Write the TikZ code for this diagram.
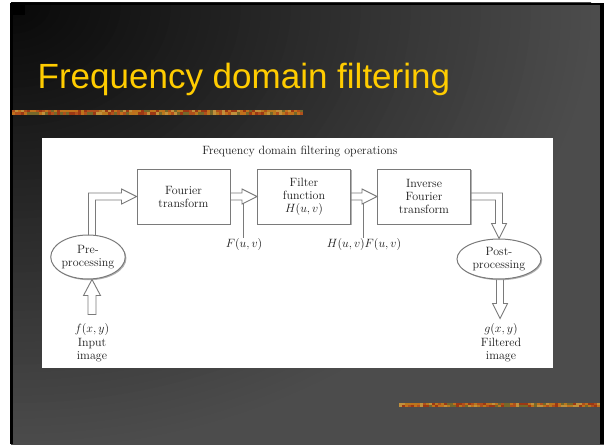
\documentclass[tikz,border=0pt]{standalone}
\usepackage{fontspec}
\newfontfamily\titlefont{Liberation Sans}
\usetikzlibrary{calc,shapes.geometric,shadows}
\definecolor{ttl}{HTML}{FFCC00}
\definecolor{bar0}{HTML}{C0701C}
\definecolor{bar1}{HTML}{9C3814}
\definecolor{bar2}{HTML}{76682A}
\definecolor{bar3}{HTML}{B0501C}
\definecolor{bar4}{HTML}{B8781E}
\definecolor{bar5}{HTML}{C0903C}
\definecolor{lin}{HTML}{7A7A7A}
\definecolor{txt}{HTML}{1A1A1A}
\begin{document}
\begin{tikzpicture}[x=1pt,y=-1pt,
  box/.style={draw=lin, line width=1pt, fill=white, minimum width=93pt, minimum height=55pt,
    inner sep=0pt, align=center, font=\fontsize{12}{13}\selectfont, text=txt,
    drop shadow={shadow xshift=1.2pt, shadow yshift=-1.2pt, fill=black!30, opacity=1}},
  ell/.style={ellipse, draw=lin, line width=1pt, fill=white, inner sep=0pt, align=center,
    font=\fontsize{12}{13}\selectfont, text=txt,
    drop shadow={shadow xshift=1.2pt, shadow yshift=-1.2pt, fill=black!30, opacity=1}},
  hol/.style={draw=lin, line width=0.9pt, line join=miter},
  lbl/.style={font=\fontsize{12}{13.5}\selectfont, text=txt, align=center, inner sep=0pt},
  tick/.style={draw=lin, line width=0.8pt}]
\useasboundingbox (0,0) rectangle (604,444);
\fill[white] (0,0) rectangle (604,444);
% slide background
\begin{scope}
  \clip (11,3) rectangle (620,460);
  \definecolor{bgbase}{gray}{0.30}
  \fill[bgbase] (11,3) rectangle (620,460);
  \foreach \r in {580,570,...,10} {
    \pgfmathsetmacro\g{min(0.30,0.03+0.00046*\r)}
    \definecolor{bgc}{gray}{\g}
    \fill[bgc] (11,3) circle[x radius=\r pt, y radius=\r/1.3 pt];
  }
\end{scope}
\fill[black] (10,3) rectangle (12.5,444);
\fill[black] (10,3) rectangle (604,5);
\fill[black] (600,3) rectangle (604,444);
\fill[black] (12,5) rectangle (25,15);
% decorative bars
\pgfmathsetseed{7}
\foreach \x in {12,15,...,300} {
  \pgfmathrandominteger{\k}{0}{5}
  \fill[bar\k] (\x,109.5) rectangle (\x+3.2,112.2);
  \pgfmathrandominteger{\k}{0}{5}
  \fill[bar\k] (\x,112) rectangle (\x+3.2,114.8);
}
\foreach \x in {399,402,...,597} {
  \pgfmathrandominteger{\k}{0}{5}
  \fill[bar\k] (\x,403) rectangle (\x+3.2,405.2);
  \pgfmathrandominteger{\k}{0}{5}
  \fill[bar\k] (\x,405) rectangle (\x+3.2,407.2);
}
% title
\node[anchor=base west, inner sep=0pt, text=ttl, font=\titlefont\fontsize{35}{40}\selectfont]
  (title) at (37.5,88) {Frequency domain filtering};
% white panel
\fill[white] (42,138) rectangle (553,368);
% diagram
\node[lbl] (dtitle) at (300,152) {Frequency domain filtering operations};
\node[box] (ft) at (183.5,196.5) {Fourier\\transform};
\node[box] (flt) at (304,196.5) {Filter\\function\\$H(u, v)$};
\node[box] (inv) at (424,196.5) {Inverse\\Fourier\\transform};
\node[ell, minimum width=74pt, minimum height=44pt] (pre) at (88,257) {Pre-\\processing};
\node[ell, minimum width=84pt, minimum height=40pt] (post) at (499,259) {Post-\\processing};
\node[lbl] (lf) at (244,244) {$F(u, v)$};
\node[lbl] (lhf) at (364,244) {$H(u, v)F(u, v)$};
\node[lbl] (inp) at (92,343) {$f(x, y)$\\Input\\image};
\node[lbl] (outp) at (501,343) {$g(x, y)$\\Filtered\\image};
% hollow arrows
\draw[hol] ($(ft.east)+(0,-3.5)$) -- ($(flt.west)+(-15,-3.5)$) -- ($(flt.west)+(-15,-7.5)$)
  -- (flt.west) -- ($(flt.west)+(-15,7.5)$) -- ($(flt.west)+(-15,3.5)$) -- ($(ft.east)+(0,3.5)$);
\draw[hol] ($(flt.east)+(0,-3.5)$) -- ($(inv.west)+(-15,-3.5)$) -- ($(inv.west)+(-15,-7.5)$)
  -- (inv.west) -- ($(inv.west)+(-15,7.5)$) -- ($(inv.west)+(-15,3.5)$) -- ($(flt.east)+(0,3.5)$);
\coordinate (pa) at ($(pre.north)+(4,0)$);
\coordinate (pc) at (pa |- ft.west);
\draw[hol] ($(pa)+(-3.5,0.5)$) -- ($(pc)+(-3.5,-3.5)$) -- ($(ft.west)+(-15,-3.5)$)
  -- ($(ft.west)+(-15,-7.5)$) -- (ft.west) -- ($(ft.west)+(-15,7.5)$)
  -- ($(ft.west)+(-15,3.5)$) -- ($(pc)+(3.5,3.5)$) -- ($(pa)+(3.5,0.6)$);
\coordinate (qa) at (post.north);
\coordinate (qc) at (qa |- inv.east);
\draw[hol] ($(inv.east)+(0,-3.5)$) -- ($(qc)+(3.5,-3.5)$) -- ($(qa)+(3.5,-15)$)
  -- ($(qa)+(7.5,-15)$) -- (qa) -- ($(qa)+(-7.5,-15)$) -- ($(qa)+(-3.5,-15)$)
  -- ($(qc)+(-3.5,3.5)$) -- ($(inv.east)+(0,3.5)$);
\coordinate (ia) at ($(pre.south)+(4,0)$);
\draw[hol] ($(ia)+(-4,35)$) -- ($(ia)+(-4,16)$) -- ($(ia)+(-8.5,16)$) -- (ia)
  -- ($(ia)+(8.5,16)$) -- ($(ia)+(4,16)$) -- ($(ia)+(4,35)$) -- cycle;
\coordinate (oa) at ($(post.south)+(1,0)$);
\draw[hol] ($(oa)+(-3.5,0)$) -- ($(oa)+(-3.5,24)$) -- ($(oa)+(-7.5,24)$) -- ($(oa)+(0,39)$)
  -- ($(oa)+(7.5,24)$) -- ($(oa)+(3.5,24)$) -- ($(oa)+(3.5,0)$);
% label ticks
\coordinate (t1) at ($(flt.west)+(-13.5,6.75)$);
\draw[tick] (t1) -- (t1 |- lf.north);
\coordinate (t2) at ($(inv.west)+(-13.5,6.75)$);
\draw[tick] (t2) -- (t2 |- lhf.north);
\end{tikzpicture}
\end{document}
